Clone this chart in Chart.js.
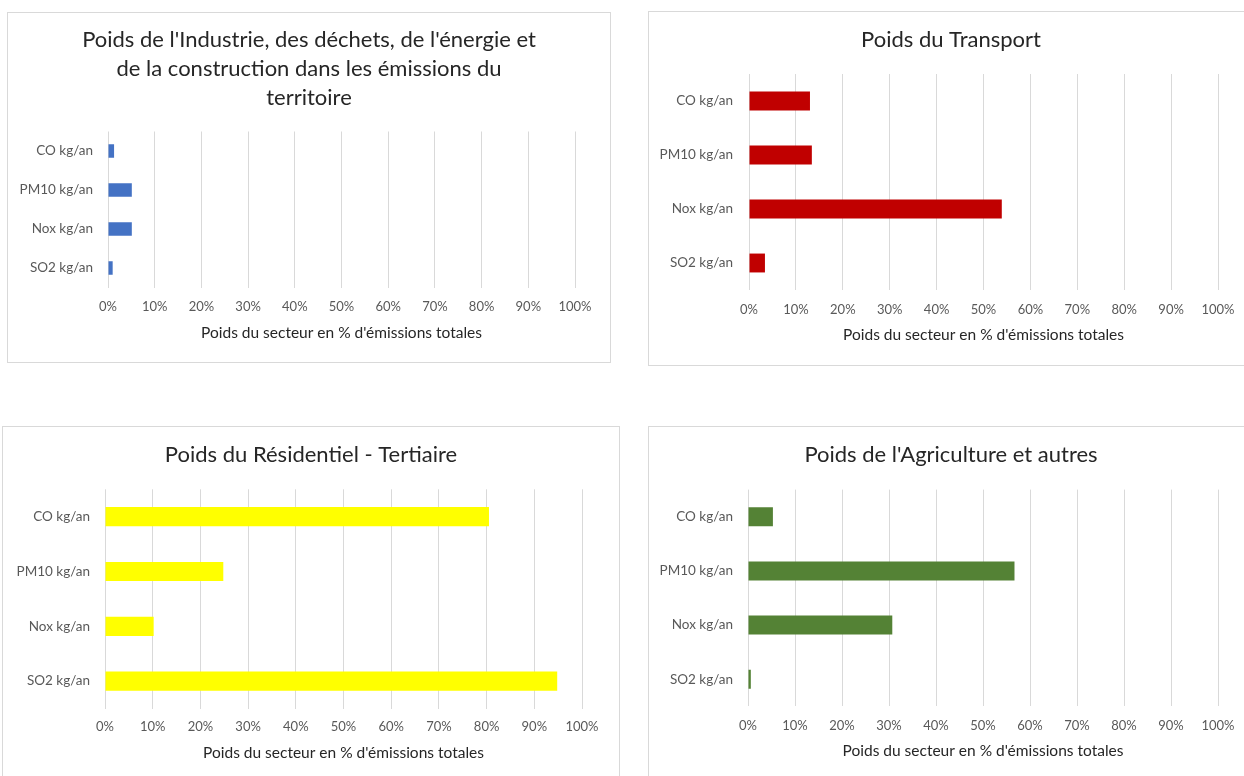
<!DOCTYPE html>
<html>
<head>
<meta charset="utf-8">
<script src="https://cdn.jsdelivr.net/npm/chart.js@4"></script>
<style>
  html, body { margin: 0; padding: 0; background: #fff; }
  body { width: 1244px; height: 776px; overflow: hidden; position: relative; }
  .panel { position: absolute; box-sizing: border-box; border: 1px solid #d9d9d9; background: #fff; }
  .panel canvas { display: block; }
</style>
</head>
<body>
<div class="panel" id="p1" style="left:7px;top:12px;width:604px;height:351px"><canvas id="c1"></canvas></div>
<div class="panel" id="p2" style="left:648px;top:11px;width:606px;height:355px"><canvas id="c2"></canvas></div>
<div class="panel" id="p3" style="left:2px;top:426px;width:618px;height:360px"><canvas id="c3"></canvas></div>
<div class="panel" id="p4" style="left:648px;top:426px;width:606px;height:360px"><canvas id="c4"></canvas></div>
<script>
const categories = ['CO kg/an', 'PM10 kg/an', 'Nox kg/an', 'SO2 kg/an']
const xTicks = [0, 10, 20, 30, 40, 50, 60, 70, 80, 90, 100]
const axisTitle = "Poids du secteur en % d'émissions totales"

const industrie = [1.3, 5.1, 5.1, 1.0]
const transport = [13.0, 13.4, 53.9, 3.4]
const residentiel = [80.5, 24.8, 10.2, 94.8]
const agriculture = [5.3, 56.7, 30.7, 0.6]

const titles = {
  c1: ["Poids de l'Industrie, des déchets, de l'énergie et", "de la construction dans les émissions du", 'territoire'],
  c2: 'Poids du Transport',
  c3: 'Poids du Résidentiel - Tertiaire',
  c4: "Poids de l'Agriculture et autres",
}

const FONT = 'Lato'
const textGray = '#595959'
const gridGray = '#d9d9d9'
const axisTitleSize = 15.5

// plot box of each canvas: left, right, top, bottom (canvas px)
function makeChart(id, data, color, box) {
  const canvas = document.getElementById(id)
  const panel = canvas.parentElement
  const w = panel.clientWidth, h = panel.clientHeight
  canvas.width = w; canvas.height = h
  canvas.style.width = w + 'px'; canvas.style.height = h + 'px'

  const lines = Array.isArray(titles[id]) ? titles[id].length : 1
  const titleLH = box.titleLH
  const titlePadTop = box.titleY - titleLH / 2
  const titlePadBottom = box.top - titlePadTop - lines * titleLH
  const axisLH = axisTitleSize * 1.2
  const xHeight = (box.axisTitleY - box.bottom) + axisLH / 2

  return new Chart(canvas, {
    type: 'bar',
    data: {
      labels: categories,
      datasets: [{
        data: data,
        backgroundColor: color,
        borderWidth: 0,
        barPercentage: 1,
        categoryPercentage: 0.35,
      }]
    },
    options: {
      indexAxis: 'y',
      responsive: false,
      animation: false,
      layout: {
        padding: { left: 0, top: 0, right: 0, bottom: h - box.bottom - xHeight }
      },
      scales: {
        x: {
          min: 0,
          max: 100,
          afterBuildTicks: (scale) => { scale.ticks = xTicks.map(v => ({ value: v })) },
          afterFit: (scale) => { scale.height = xHeight },
          grid: { color: gridGray, lineWidth: 1, drawTicks: false },
          border: { display: false },
          ticks: {
            padding: box.tickPad,
            color: textGray,
            font: { family: FONT, size: 13 },
            callback: (v) => v + '%',
          },
          title: {
            display: true,
            text: axisTitle,
            color: '#262626',
            font: { family: FONT, size: axisTitleSize },
            padding: 0,
          },
        },
        y: {
          afterFit: (scale) => { scale.width = box.left },
          grid: { display: false, drawTicks: false },
          border: { display: false },
          ticks: {
            padding: box.labelPad,
            color: textGray,
            font: { family: FONT, size: 13.5 },
          },
        },
        // empty right-hand axis that only reserves the right margin,
        // so the chart title stays centred on the whole panel
        yRight: {
          type: 'category',
          position: 'right',
          afterFit: (scale) => { scale.width = w - box.right },
          grid: { display: false, drawTicks: false },
          border: { display: false },
          ticks: { display: false },
        },
      },
      plugins: {
        legend: { display: false },
        tooltip: { enabled: false },
        title: {
          display: true,
          text: titles[id],
          color: '#262626',
          font: { family: FONT, size: box.titleSize, weight: 'normal', lineHeight: titleLH / box.titleSize },
          padding: { top: titlePadTop, bottom: titlePadBottom },
        },
      },
    },
  })
}

makeChart('c1', industrie, '#4472c4', { left: 100, right: 567, top: 118.5, bottom: 274.5, titleY: 27, titleLH: 29, titleSize: 22, tickPad: 12, axisTitleY: 320, labelPad: 15 })
makeChart('c2', transport, '#c00000', { left: 100, right: 569, top: 62, bottom: 278, titleY: 28, titleLH: 26, titleSize: 22, tickPad: 12, axisTitleY: 323, labelPad: 16 })
makeChart('c3', residentiel, '#ffff00', { left: 102, right: 579, top: 62.3, bottom: 281.5, titleY: 28, titleLH: 26, titleSize: 22, tickPad: 11, axisTitleY: 326, labelPad: 15 })
makeChart('c4', agriculture, '#548235', { left: 99, right: 569, top: 62.6, bottom: 279.4, titleY: 28, titleLH: 26, titleSize: 22, tickPad: 12, axisTitleY: 323.7, labelPad: 15 })
</script>
</body>
</html>
